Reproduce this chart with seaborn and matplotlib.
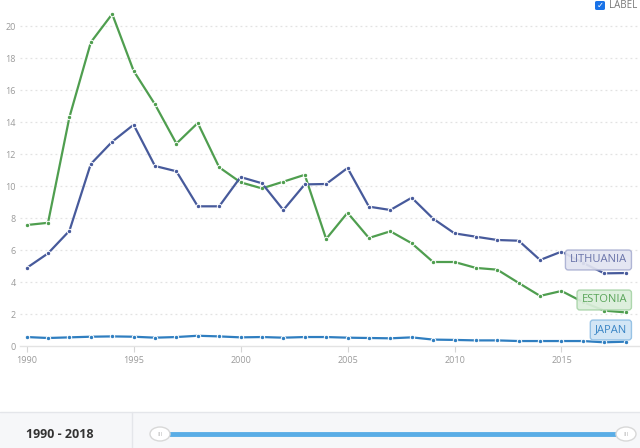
import numpy as np
import pandas as pd
import matplotlib
matplotlib.use("Agg")
import matplotlib.pyplot as plt
import seaborn as sns
from matplotlib.patches import Rectangle, Circle, FancyBboxPatch

years = list(range(1990, 2019))
estonia = [7.56, 7.7, 14.3, 18.98, 20.75, 17.2, 15.1, 12.65, 13.94, 11.17,
           10.23, 9.85, 10.27, 10.7, 6.69, 8.33, 6.75, 7.17, 6.42, 5.25,
           5.25, 4.88, 4.77, 3.94, 3.13, 3.44, 2.75, 2.21, 2.1]
lithuania = [4.875, 5.79, 7.2, 11.375, 12.77, 13.83, 11.25, 10.92, 8.73, 8.73,
             10.56, 10.17, 8.5, 10.1, 10.125, 11.125, 8.71, 8.5, 9.27, 7.96,
             7.04, 6.83, 6.625, 6.58, 5.375, 5.9, 5.2, 4.54, 4.56]
japan = [0.56, 0.5, 0.54, 0.58, 0.6, 0.58, 0.52, 0.56, 0.64, 0.6,
         0.54, 0.56, 0.52, 0.56, 0.56, 0.52, 0.5, 0.48, 0.54, 0.4,
         0.38, 0.35, 0.35, 0.31, 0.31, 0.31, 0.31, 0.23, 0.27]
countries = ["ESTONIA", "LITHUANIA", "JAPAN"]
colors = {"ESTONIA": "#4f9e4f", "LITHUANIA": "#475a9b", "JAPAN": "#2f7ec0"}
yticks = [0, 2, 4, 6, 8, 10, 12, 14, 16, 18, 20]
xticks = [1990, 1995, 2000, 2005, 2010, 2015]
range_label = "1990 - 2018"

df = pd.concat([
    pd.DataFrame({"year": years, "value": estonia, "country": "ESTONIA"}),
    pd.DataFrame({"year": years, "value": lithuania, "country": "LITHUANIA"}),
    pd.DataFrame({"year": years, "value": japan, "country": "JAPAN"}),
])

sns.set_theme(style="white")
plt.rcParams["font.family"] = ["Open Sans", "DejaVu Sans"]

W, H = 640, 448
fig = plt.figure(figsize=(6.4, 4.48), dpi=100)
ax = fig.add_axes([20 / W, (H - 346) / H, 620 / W, 336 / H])

sns.lineplot(data=df, x="year", y="value", hue="country", palette=colors,
             hue_order=countries, ax=ax, linewidth=1.6, marker="o",
             markersize=3.2, markeredgecolor="white", markeredgewidth=0.7,
             legend=False)

ax.set_xlim(1989.69, 2018.67)
ax.set_ylim(0, 21)
ax.set_xlabel("")
ax.set_ylabel("")
ax.set_yticks(yticks)
ax.set_yticklabels([str(v) for v in yticks])
ax.set_xticks(xticks)
ax.set_xticklabels([str(v) for v in xticks])
for s in ["top", "right", "left"]:
    ax.spines[s].set_visible(False)
ax.spines["bottom"].set_color("#e3e3e3")
ax.spines["bottom"].set_linewidth(1)
ax.tick_params(axis="y", length=0, pad=3, labelsize=6.5, labelcolor="#9a9a9a")
ax.tick_params(axis="x", length=4, width=0.8, color="#d5d5d5", pad=3,
               labelsize=6.5, labelcolor="#9a9a9a", bottom=True)
for v in yticks[1:]:
    ax.axhline(v, color="#e2e2e2", linestyle=(0, (1.5, 2.5)), linewidth=0.9, zorder=0)

# end labels (right edges aligned)
def tag(ypx, text, c, fc, ec):
    fig.text(627 / W, (H - ypx) / H, text, ha="right", va="center",
             fontsize=8, color=c, zorder=10,
             bbox=dict(boxstyle="round,pad=0.4,rounding_size=0.25", fc=fc, ec=ec,
                       lw=1.0, alpha=0.92))

tag(260, "LITHUANIA", "#6a74aa", "#e2e4f1", "#aab0d2")
tag(300, "ESTONIA", "#5aa55a", "#dbeedb", "#a8d4a8")
tag(330, "JAPAN", "#3a85c5", "#d0e4f5", "#90bfe4")

# bottom strip
fig.patches.append(Rectangle((0, 0), 1, 36 / H, transform=fig.transFigure,
                             fc="#f6f7f9", ec="none", zorder=0))
fig.lines.append(plt.Line2D([0, 1], [36 / H, 36 / H], transform=fig.transFigure,
                            color="#e4e6ea", lw=1))
fig.lines.append(plt.Line2D([132 / W, 132 / W], [0, 36 / H], transform=fig.transFigure,
                            color="#e4e6ea", lw=1))
fig.text(60 / W, (H - 434) / H, range_label, ha="center", va="center",
         fontsize=9, fontweight="bold", color="#333333")
fig.lines.append(plt.Line2D([160 / W, 626 / W], [(H - 434) / H, (H - 434) / H],
                            transform=fig.transFigure, color="#5aade6", lw=3.5))
for hx in [160, 626]:
    fig.patches.append(Circle((hx / W, (H - 434) / H), 10 / W, transform=fig.transFigure,
                              fc="white", ec="#d8d8d8", lw=1, zorder=5))
    fig.text(hx / W, (H - 434) / H, "III", ha="center", va="center", fontsize=4.5,
             color="#bbbbbb", zorder=6)

# LABEL checkbox
fig.patches.append(FancyBboxPatch((595 / W, (H - 10) / H), 10 / W, 9 / H,
                                  boxstyle="round,pad=0,rounding_size=0.003",
                                  transform=fig.transFigure, fc="#1a73e8", ec="none"))
fig.text(600 / W, (H - 5.5) / H, "✓", ha="center", va="center", fontsize=6,
         color="white", family="DejaVu Sans", fontweight="bold")
fig.text(609 / W, (H - 6) / H, "LABEL", ha="left", va="center", fontsize=7,
         color="#777777")

fig.savefig("out.png", dpi=100)
